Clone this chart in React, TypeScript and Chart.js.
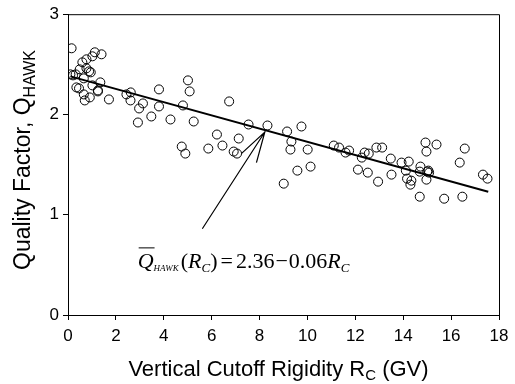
import React, { useEffect, useRef } from 'react';
import { Chart, registerables } from 'chart.js';

Chart.register(...registerables);

// ---- Data ----
const xTickValues = [0, 2, 4, 6, 8, 10, 12, 14, 16, 18];
const yTickValues = [0, 1, 2, 3];

// Vertical cutoff rigidity R_C (GV)
const rigidity = [
  0.15, 1.12, 1.40, 1.02, 0.77, 0.60, 0.49, 0.77, 0.88, 0.95,
  0.10, 0.21, 0.32, 0.66, 1.35, 1.02, 0.35, 0.46, 1.25, 1.25,
  0.66, 0.91, 0.70, 1.71, 2.44, 2.62, 2.61, 3.80, 3.13, 2.97,
  3.80, 5.01, 5.08, 4.80, 2.92, 3.48, 4.28, 5.25, 4.75, 4.90,
  5.86, 6.73, 7.54, 6.22, 7.13, 6.45, 6.92, 7.06, 8.33, 9.15,
  9.75, 9.33, 9.29, 10.01, 9.58, 10.13, 9.01, 11.10, 11.32, 11.59,
  11.74, 12.27, 12.39, 12.56, 12.88, 13.12, 12.11, 12.52, 12.95, 13.48,
  13.51, 13.93, 14.23, 14.11, 14.16, 14.34, 14.30, 14.72, 14.69, 14.93,
  14.97, 15.39, 15.00, 15.05, 15.08, 14.97, 14.69, 15.71, 16.47, 16.57,
  16.36, 17.33, 17.52,
];

// Quality factor Q_HAWK
const quality = [
  2.66, 2.62, 2.60, 2.58, 2.55, 2.52, 2.45, 2.46, 2.43, 2.42,
  2.40, 2.39, 2.40, 2.36, 2.32, 2.29, 2.27, 2.26, 2.24, 2.23,
  2.20, 2.17, 2.14, 2.15, 2.20, 2.22, 2.14, 2.25, 2.11, 2.06,
  2.08, 2.34, 2.23, 2.09, 1.92, 1.98, 1.95, 1.93, 1.68, 1.61,
  1.66, 2.13, 1.90, 1.80, 1.76, 1.69, 1.63, 1.61, 1.89, 1.83,
  1.88, 1.73, 1.65, 1.65, 1.44, 1.48, 1.31, 1.69, 1.67, 1.62,
  1.64, 1.57, 1.62, 1.61, 1.67, 1.67, 1.45, 1.42, 1.33, 1.56,
  1.40, 1.52, 1.53, 1.44, 1.36, 1.34, 1.30, 1.48, 1.43, 1.72,
  1.63, 1.70, 1.43, 1.44, 1.42, 1.35, 1.18, 1.16, 1.18, 1.66,
  1.52, 1.40, 1.36,
];

// Fitted line end points
const fitRigidity = [0.1, 17.55];
const fitQuality = [2.38, 1.23];

// Annotation arrow (data units)
const arrowTail = [5.61, 0.86];
const arrowTip = [8.22, 1.825];
const arrowHeadA = [7.24, 1.61];
const arrowHeadB = [7.87, 1.52];

// Equation anchor (data units, baseline-left)
const equationAnchor = [2.91, 0.465];

const SANS = '"Liberation Sans", Arial, Helvetica, sans-serif';
const SERIF = '"Liberation Serif", "Times New Roman", Times, serif';

type Piece = { t: string; font: string; dy?: number; gap?: number; overline?: boolean };

function drawPieces(ctx: CanvasRenderingContext2D, pieces: Piece[], x0: number, y0: number) {
  let x = x0;
  for (const p of pieces) {
    x += p.gap || 0;
    ctx.font = p.font;
    const w = ctx.measureText(p.t).width;
    ctx.fillText(p.t, x, y0 + (p.dy || 0));
    if (p.overline) {
      ctx.beginPath();
      ctx.lineWidth = 1;
      ctx.moveTo(x + 1, y0 - 20.5);
      ctx.lineTo(x + w + 1, y0 - 20.5);
      ctx.stroke();
    }
    x += w;
  }
  return x - x0;
}

function piecesWidth(ctx: CanvasRenderingContext2D, pieces: Piece[]) {
  let w = 0;
  for (const p of pieces) {
    ctx.font = p.font;
    w += (p.gap || 0) + ctx.measureText(p.t).width;
  }
  return w;
}

const overlay = {
  id: 'overlay',
  afterDraw(chart: any) {
    const { ctx, chartArea, scales } = chart;
    const xs = scales.x;
    const ys = scales.y;
    ctx.save();
    ctx.strokeStyle = '#000';
    ctx.fillStyle = '#000';
    ctx.lineWidth = 1;

    // top and right frame
    ctx.beginPath();
    ctx.moveTo(chartArea.left, chartArea.top + 0.5);
    ctx.lineTo(chartArea.right + 0.5, chartArea.top + 0.5);
    ctx.lineTo(chartArea.right + 0.5, chartArea.bottom);
    ctx.stroke();

    // arrow
    const P = (p: number[]) => [xs.getPixelForValue(p[0]), ys.getPixelForValue(p[1])];
    const tail = P(arrowTail), tip = P(arrowTip), ha = P(arrowHeadA), hb = P(arrowHeadB);
    ctx.beginPath();
    ctx.lineWidth = 1.2;
    ctx.moveTo(tail[0], tail[1]);
    ctx.lineTo(tip[0], tip[1]);
    ctx.moveTo(ha[0], ha[1]);
    ctx.lineTo(tip[0], tip[1]);
    ctx.lineTo(hb[0], hb[1]);
    ctx.stroke();

    // equation
    const eq: Piece[] = [
      { t: 'Q', font: `italic 22px ${SERIF}`, overline: true },
      { t: 'HAWK', font: `italic 9px ${SERIF}`, dy: 3 },
      { t: '(', font: `22px ${SERIF}`, gap: 2 },
      { t: 'R', font: `italic 22px ${SERIF}` },
      { t: 'C', font: `italic 13px ${SERIF}`, dy: 4 },
      { t: ')', font: `22px ${SERIF}` },
      { t: '=', font: `22px ${SERIF}`, gap: 3 },
      { t: '2.36', font: `22px ${SERIF}`, gap: 3 },
      { t: '\u2212', font: `22px ${SERIF}`, gap: 1 },
      { t: '0.06', font: `22px ${SERIF}`, gap: 1 },
      { t: 'R', font: `italic 22px ${SERIF}` },
      { t: 'C', font: `italic 13px ${SERIF}`, dy: 4 },
    ];
    const ea = P(equationAnchor);
    ctx.textAlign = 'left';
    ctx.textBaseline = 'alphabetic';
    drawPieces(ctx, eq, ea[0], ea[1]);

    // x-axis title
    const xt: Piece[] = [
      { t: 'Vertical Cutoff Rigidity R', font: `22px ${SANS}` },
      { t: 'C', font: `15px ${SANS}`, dy: 4 },
      { t: ' (GV)', font: `22px ${SANS}` },
    ];
    const xw = piecesWidth(ctx, xt);
    drawPieces(ctx, xt, 278.5 - xw / 2, 376);

    // y-axis title
    const yt: Piece[] = [
      { t: 'Quality Factor, Q', font: `23px ${SANS}` },
      { t: 'HAWK', font: `16px ${SANS}`, dy: 5 },
    ];
    const yw = piecesWidth(ctx, yt);
    ctx.translate(30, 160);
    ctx.rotate(-Math.PI / 2);
    drawPieces(ctx, yt, -yw / 2, 0);

    ctx.restore();
  },
};

export default function App() {
  const ref = useRef<HTMLCanvasElement | null>(null);

  useEffect(() => {
    document.body.style.margin = '0';
    const canvas = ref.current;
    if (!canvas) return;

    const chart = new Chart(canvas, {
      type: 'scatter',
      data: {
        datasets: [
          {
            type: 'line',
            data: fitRigidity.map((x, i) => ({ x, y: fitQuality[i] })),
            borderColor: '#000',
            borderWidth: 2,
            pointRadius: 0,
            fill: false,
            tension: 0,
          } as any,
          {
            data: rigidity.map((x, i) => ({ x, y: quality[i] })),
            pointStyle: 'circle',
            pointRadius: 4.5,
            pointBorderWidth: 1,
            borderColor: '#000',
            backgroundColor: 'rgba(0,0,0,0)',
            pointBackgroundColor: 'rgba(0,0,0,0)',
            pointBorderColor: '#000',
          } as any,
        ],
      },
      options: {
        responsive: false,
        animation: false,
        events: [],
        layout: { padding: { top: 12, right: 16, left: 0, bottom: 0 } },
        plugins: { legend: { display: false }, tooltip: { enabled: false }, title: { display: false } },
        scales: {
          x: {
            type: 'linear',
            min: 0,
            max: 18,
            afterBuildTicks: (s: any) => {
              s.ticks = xTickValues.map((v) => ({ value: v }));
            },
            afterFit: (s: any) => {
              s.height = 69;
            },
            ticks: {
              color: '#000',
              font: { family: SANS, size: 17 },
              padding: 6,
              maxRotation: 0,
              autoSkip: false,
            },
            grid: { drawOnChartArea: false, drawTicks: true, tickLength: 5, color: '#000' },
            border: { display: true, color: '#000', width: 1 },
          },
          y: {
            type: 'linear',
            min: 0,
            max: 3,
            afterBuildTicks: (s: any) => {
              s.ticks = yTickValues.map((v) => ({ value: v }));
            },
            afterFit: (s: any) => {
              s.width = 68;
            },
            ticks: {
              color: '#000',
              font: { family: SANS, size: 17 },
              padding: 4,
              autoSkip: false,
            },
            grid: { drawOnChartArea: false, drawTicks: true, tickLength: 5, color: '#000' },
            border: { display: true, color: '#000', width: 1 },
          },
        },
      },
      plugins: [overlay],
    });

    return () => chart.destroy();
  }, []);

  return <canvas ref={ref} width={515} height={384} style={{ display: 'block' }} />;
}
